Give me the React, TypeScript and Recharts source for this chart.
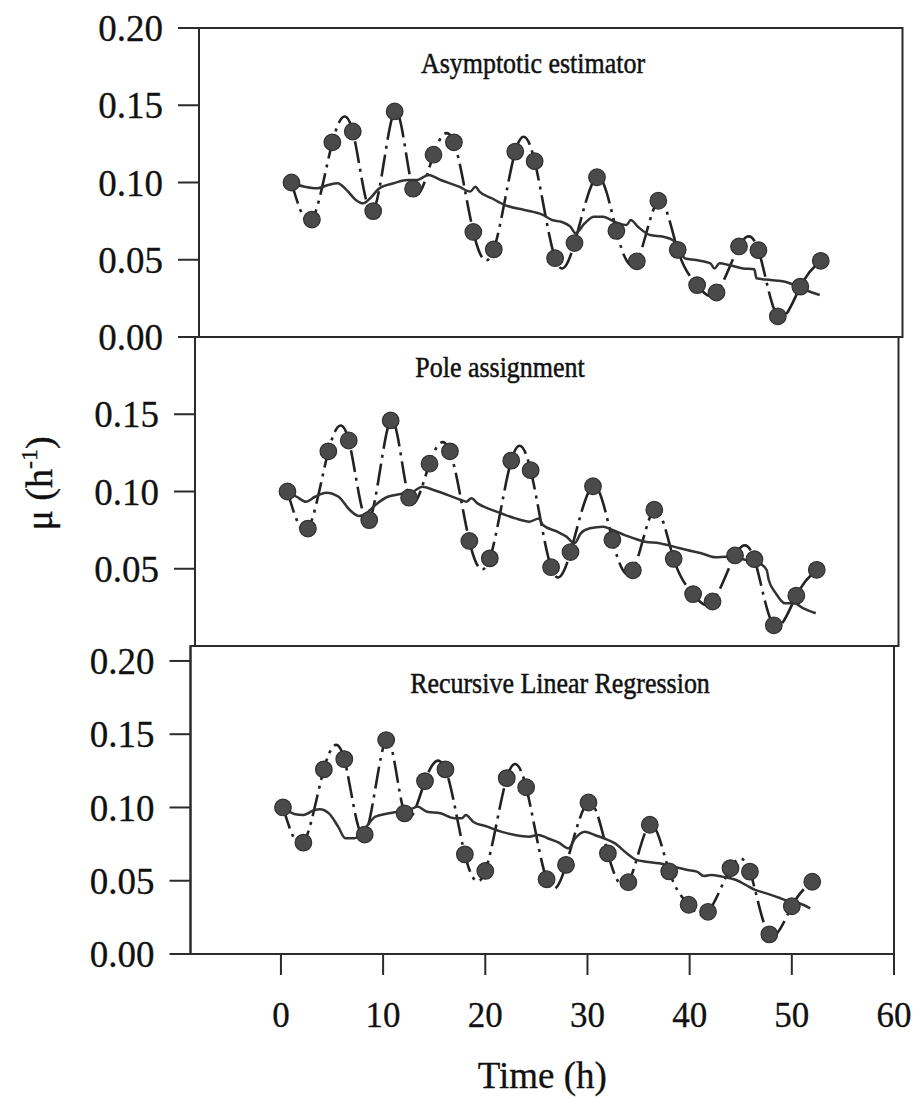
import React from 'react';
import { ComposedChart, Line, Scatter, XAxis, YAxis, ReferenceArea } from 'recharts';

// ---------- data ----------
const measuredTime = [0.2, 2.2, 4.2, 6.2, 8.2, 10.3, 12.1, 14.1, 16.1, 18.0, 20.0, 22.1, 24.0, 26.0, 27.9, 30.1, 32.0, 34.0, 36.1, 38.0, 39.9, 41.8, 44.0, 45.9, 47.8, 50.0, 52.0];
const measuredMu = [0.100, 0.076, 0.126, 0.133, 0.0815, 0.146, 0.096, 0.118, 0.126, 0.068, 0.0567, 0.120, 0.1138, 0.051, 0.0608, 0.1034, 0.0687, 0.049, 0.0882, 0.0564, 0.0336, 0.0288, 0.0586, 0.0562, 0.0134, 0.0326, 0.0493];

const asymTime = [0.2, 1.5, 2.7, 3.8, 4.7, 5.6, 6.5, 7.2, 7.9, 8.8, 10.2, 11.6, 12.5, 13.2, 13.6, 14.8, 16.6, 17.7, 18.2, 18.6, 19.8, 21.1, 23.0, 24.8, 25.7, 26.6, 27.5, 28.0, 28.9, 29.8, 30.7, 31.8, 33.0, 33.4, 34.1, 35.3, 36.6, 37.5, 38.2, 38.7, 39.8, 41.2, 41.6, 42.1, 43.0, 44.4, 45.5, 45.7, 47.1, 48.5, 49.4, 50.5, 51.9];
const asymMu = [0.0995, 0.0973, 0.0962, 0.0984, 0.0995, 0.0951, 0.0887, 0.0865, 0.0898, 0.0962, 0.0995, 0.1016, 0.1016, 0.1038, 0.1049, 0.1016, 0.0973, 0.0941, 0.0973, 0.0941, 0.0898, 0.0854, 0.0822, 0.079, 0.0757, 0.0746, 0.0714, 0.0671, 0.0736, 0.0779, 0.0779, 0.0746, 0.0725, 0.0757, 0.0714, 0.066, 0.0649, 0.0628, 0.0563, 0.0509, 0.0498, 0.0477, 0.0444, 0.0477, 0.0466, 0.0444, 0.0438, 0.038, 0.0369, 0.0358, 0.0337, 0.0304, 0.0272];

const poleTime = [0.25, 1.1, 2.0, 2.9, 4.0, 5.2, 6.3, 7.2, 7.9, 8.8, 10.0, 11.3, 12.5, 13.4, 14.5, 15.9, 17.2, 17.7, 18.2, 18.8, 19.8, 21.1, 22.5, 23.9, 24.8, 25.2, 26.6, 27.5, 28.3, 28.9, 29.8, 31.1, 32.0, 33.2, 34.1, 35.2, 36.6, 38.0, 39.3, 40.7, 42.1, 43.2, 44.3, 45.7, 46.4, 47.1, 47.3, 48.0, 48.9, 49.8, 50.7, 51.9];
const poleMu = [0.0992, 0.0966, 0.0934, 0.0966, 0.0992, 0.0966, 0.088, 0.0841, 0.0859, 0.0913, 0.0966, 0.0984, 0.0999, 0.1031, 0.101, 0.0977, 0.0945, 0.0934, 0.0956, 0.0923, 0.0891, 0.0859, 0.0826, 0.0805, 0.0826, 0.0783, 0.074, 0.0708, 0.0665, 0.0729, 0.0762, 0.0772, 0.0751, 0.0718, 0.0697, 0.0675, 0.0665, 0.0643, 0.0621, 0.06, 0.0574, 0.0578, 0.0568, 0.0546, 0.0535, 0.0492, 0.0427, 0.0341, 0.0276, 0.0276, 0.0244, 0.0212];

const rlrTime = [0.23, 1.3, 2.2, 3.3, 3.8, 4.7, 5.6, 6.3, 7.2, 8.1, 9.25, 10.6, 12.0, 12.9, 13.35, 14.3, 15.6, 17.0, 17.7, 18.1, 18.8, 20.2, 21.55, 22.9, 24.3, 25.2, 26.1, 27.2, 28.15, 28.8, 29.75, 30.7, 31.6, 32.7, 33.85, 34.8, 35.7, 37.0, 38.4, 39.8, 40.7, 41.4, 42.05, 43.2, 44.55, 45.5, 46.4, 47.5, 48.9, 49.8, 50.7, 51.8];
const rlrMu = [0.1006, 0.0956, 0.0949, 0.0983, 0.0988, 0.096, 0.0869, 0.079, 0.079, 0.0846, 0.0937, 0.096, 0.0978, 0.0994, 0.1006, 0.0971, 0.096, 0.0926, 0.0926, 0.0949, 0.0903, 0.0869, 0.0835, 0.0812, 0.0801, 0.0812, 0.079, 0.076, 0.0721, 0.079, 0.0835, 0.0812, 0.079, 0.0755, 0.0687, 0.0642, 0.063, 0.0619, 0.0596, 0.0573, 0.0562, 0.0532, 0.0539, 0.0528, 0.0505, 0.0471, 0.0437, 0.0414, 0.038, 0.0357, 0.0346, 0.0312];

const xTicks = [0, 10, 20, 30, 40, 50, 60];
const yTicksFull = [0, 0.05, 0.1, 0.15, 0.2];
const yTicksMid = [0.05, 0.1, 0.15];
const panelTitles = ['Asymptotic estimator', 'Pole assignment', 'Recursive Linear Regression'];
const xTitle = 'Time (h)';

const zip = (ts: number[], vs: number[]) => ts.map((t, i) => ({ t, v: vs[i] }));
const measured = zip(measuredTime, measuredMu);
const estimators = [zip(asymTime, asymMu), zip(poleTime, poleMu), zip(rlrTime, rlrMu)];

// ---------- layout ----------
const FONT = '"Liberation Serif", "Times New Roman", serif';
const INK = '#2b2b2b';
const W = 915;
const PLOT_W = 703.5;
const X_MIN = -8.85;
const X_MAX = 60;

const panels = [
  { plotLeft: 199, top: 0, marginTop: 28, plotH: 309, yMax: 0.2, yTicks: yTicksFull, titleDx: 334, titleDy: 45, showX: false, yTitle: false },
  { plotLeft: 195, top: 327, marginTop: 10, plotH: 309, yMax: 0.2, yTicks: yTicksMid, titleDx: 305, titleDy: 40, showX: false, yTitle: true },
  { plotLeft: 190.5, top: 636, marginTop: 10, plotH: 308, yMax: 0.2102, yTicks: yTicksFull, titleDx: 369.5, titleDy: 47, showX: true, yTitle: false },
];

const X_AXIS_H = 140;

const Dot = (props: any) => {
  const { cx, cy } = props;
  if (cx == null || cy == null) return null;
  return <circle cx={cx} cy={cy} r={8.3} fill="#4a4a4a" stroke="#303030" strokeWidth={1.2} />;
};

function Panel({ idx }: { idx: number }) {
  const p = panels[idx];
  const bottomPad = p.showX ? 4 : 22;
  const height = p.marginTop + p.plotH + (p.showX ? X_AXIS_H : 0) + bottomPad;
  const marginRight = W - p.plotLeft - PLOT_W;
  const title = panelTitles[idx];
  return (
    <div style={{ position: 'absolute', left: 0, top: p.top }}>
      <ComposedChart
        width={W}
        height={height}
        margin={{ top: p.marginTop, right: marginRight, bottom: bottomPad, left: 0 }}
      >
        <XAxis
          type="number"
          dataKey="t"
          domain={[X_MIN, X_MAX]}
          allowDataOverflow
          ticks={xTicks}
          interval={0}
          hide={!p.showX}
          height={p.showX ? X_AXIS_H : 0}
          tickSize={21}
          tickMargin={27}
          axisLine={{ stroke: INK, strokeWidth: 2 }}
          tickLine={{ stroke: INK, strokeWidth: 2 }}
          tick={{ fontSize: 35, fill: '#111', fontFamily: FONT, stroke: '#111', strokeWidth: 0.3 }}
          label={(lp: any) => {
            const vb = lp.viewBox || {};
            return (
              <text
                x={vb.x + vb.width / 2}
                y={vb.y + 134}
                textAnchor="middle"
                fontSize={37}
                fontFamily={FONT}
                fill="#111"
                stroke="#111"
                strokeWidth={0.3}
              >
                {xTitle}
              </text>
            );
          }}
        />
        <YAxis
          type="number"
          domain={[0, p.yMax]}
          allowDataOverflow
          ticks={p.yTicks}
          interval={0}
          width={p.plotLeft}
          tickSize={21}
          tickMargin={15}
          tickFormatter={(v: number) => v.toFixed(2)}
          axisLine={{ stroke: INK, strokeWidth: 2 }}
          tickLine={{ stroke: INK, strokeWidth: 2 }}
          tick={{ fontSize: 37, fill: '#111', fontFamily: FONT, stroke: '#111', strokeWidth: 0.3 }}
          label={
            p.yTitle
              ? (lp: any) => {
                  const vb = lp.viewBox || {};
                  const x = vb.x + 52;
                  const y = vb.y + vb.height / 2 - 8;
                  return (
                    <text
                      x={x}
                      y={y}
                      transform={`rotate(-90, ${x}, ${y})`}
                      textAnchor="middle"
                      fontSize={38}
                      fontFamily={FONT}
                      fill="#111"
                      stroke="#111"
                      strokeWidth={0.4}
                    >
                      μ (h
                      <tspan fontSize={24} dy={-15}>-1</tspan>
                      <tspan dy={15}>)</tspan>
                    </text>
                  );
                }
              : undefined
          }
        />
        <ReferenceArea
          x1={X_MIN}
          x2={X_MAX}
          y1={0}
          y2={p.yMax}
          fill="none"
          fillOpacity={0}
          stroke={INK}
          strokeWidth={2}
          ifOverflow="visible"
          label={(lp: any) => {
            const vb = lp.viewBox || {};
            const tx = vb.x + p.titleDx;
            const ty = vb.y + p.titleDy;
            return (
              <text
                transform={`translate(${tx}, ${ty}) scale(0.88, 1)`}
                x={0}
                y={0}
                textAnchor="middle"
                fontSize={29.5}
                fontFamily={FONT}
                fill="#111"
                stroke="#111"
                strokeWidth={0.5}
              >
                {title}
              </text>
            );
          }}
        />
        <Line
          data={measured}
          dataKey="v"
          type="natural"
          stroke="#222"
          strokeWidth={2.6}
          strokeDasharray="22 6 3 6"
          dot={false}
          activeDot={false}
          isAnimationActive={false}
        />
        <Scatter data={measured} dataKey="v" shape={<Dot />} isAnimationActive={false} />
        <Line
          data={estimators[idx]}
          dataKey="v"
          type="monotone"
          stroke="#333"
          strokeWidth={2.5}
          dot={false}
          activeDot={false}
          isAnimationActive={false}
        />
      </ComposedChart>
    </div>
  );
}

export default function App() {
  return (
    <div style={{ position: 'absolute', left: 0, top: 0, width: W, height: 1105, background: '#fff' }}>
      <Panel idx={0} />
      <Panel idx={1} />
      <Panel idx={2} />
    </div>
  );
}
